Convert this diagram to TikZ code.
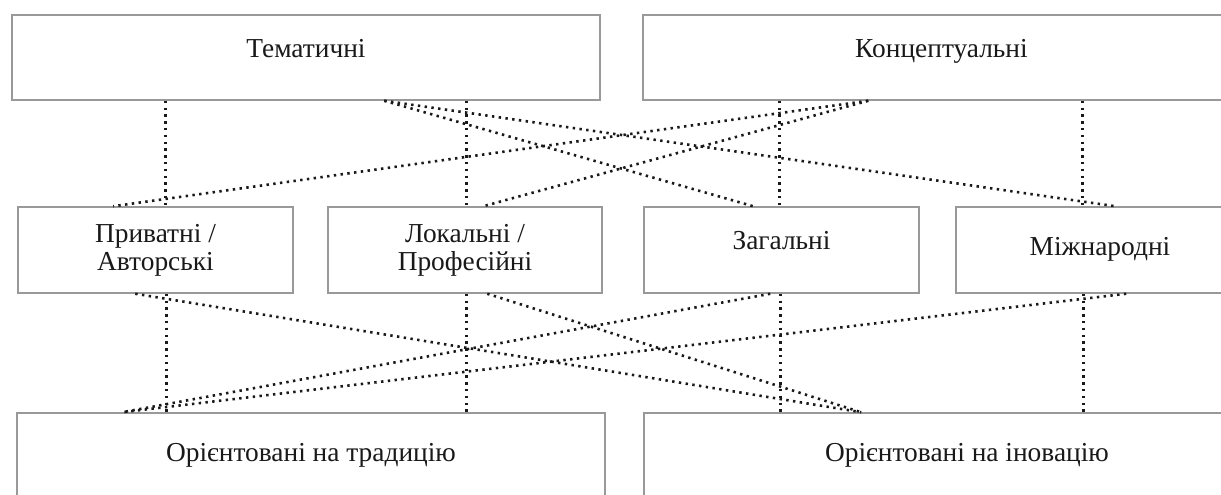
\documentclass[tikz,border=0pt]{standalone}
\usepackage{fontspec}
\setmainfont{Liberation Serif}
\usetikzlibrary{calc}
\begin{document}
\begin{tikzpicture}[x=1bp,y=-1bp,
  box/.style={draw=gray!80, line width=1.5bp, rectangle, inner sep=0pt,
    font=\fontsize{27.5}{28}\selectfont, text=black!90, align=center},
  link/.style={draw=black!90, line width=2.6bp, dash pattern=on 2.4bp off 4.4bp}]
\clip (0,0) rectangle (1221,495);
\fill[white] (0,0) rectangle (1221,495);
% top row
\node[box, minimum width=588bp, minimum height=85bp, text height=18bp, text depth=17bp] (T) at (306,57.5) {Тематичні};
\node[box, minimum width=597bp, minimum height=85bp, text height=18bp, text depth=17bp] (K) at (941.5,57.5) {Концептуальні};
% middle row
\node[box, minimum width=275bp, minimum height=86bp] (P) at (155.5,250) {Приватні /\\Авторські};
\node[box, minimum width=274bp, minimum height=86bp] (L) at (465,250) {Локальні /\\Професійні};
\node[box, minimum width=275bp, minimum height=86bp, text height=18bp, text depth=18bp] (Z) at (781.5,250) {Загальні};
\node[box, minimum width=288bp, minimum height=86bp, text height=18bp, text depth=6bp] (M) at (1100,250) {Міжнародні};
% bottom row
\node[box, minimum width=588bp, minimum height=87bp, text height=18bp, text depth=9bp] (Tr) at (311,456.5) {Орієнтовані на традицію};
\node[box, minimum width=646bp, minimum height=87bp, text height=18bp, text depth=9bp] (In) at (967,456.5) {Орієнтовані на іновацію};
% anchor points
\coordinate (Ta) at ($(T.south west)+(154,0)$);
\coordinate (Tb) at ($(T.south west)+(455,0)$);
\coordinate (Tc) at ($(T.south west)+(373,0)$);
\coordinate (Ka) at ($(K.south west)+(137,0)$);
\coordinate (Kb) at ($(K.south west)+(440,0)$);
\coordinate (Kc) at ($(K.south west)+(226,0)$);
\coordinate (Pt) at ($(P.north west)+(96,0)$);
\coordinate (Lt) at ($(L.north west)+(156,0)$);
\coordinate (Zt) at ($(Z.north west)+(110,0)$);
\coordinate (Mt) at ($(M.north west)+(160,0)$);
\coordinate (Pv) at ($(P.south west)+(149,0)$);
\coordinate (Lv) at ($(L.south west)+(139,0)$);
\coordinate (Zv) at ($(Z.south west)+(137,0)$);
\coordinate (Mv) at ($(M.south west)+(128,0)$);
\coordinate (Pb) at ($(P.south west)+(118,0)$);
\coordinate (Lb) at ($(L.south west)+(160,0)$);
\coordinate (Zb) at ($(Z.south west)+(127,0)$);
\coordinate (Mb) at ($(M.south west)+(171,0)$);
\coordinate (Trt) at ($(Tr.north west)+(106,0)$);
\coordinate (Int) at ($(In.north west)+(218,0)$);
% top to middle
\draw[link] (Ta) -- (Ta |- P.north);
\draw[link] (Tb) -- (Tb |- L.north);
\draw[link] (Ka) -- (Ka |- Z.north);
\draw[link] (Kb) -- (Kb |- M.north);
\draw[link] (Tc) -- (Zt);
\draw[link] (Tc) -- (Mt);
\draw[link] (Kc) -- (Pt);
\draw[link] (Kc) -- (Lt);
% middle to bottom
\draw[link] (Pv) -- (Pv |- Tr.north);
\draw[link] (Lv) -- (Lv |- Tr.north);
\draw[link] (Zv) -- (Zv |- In.north);
\draw[link] (Mv) -- (Mv |- In.north);
\draw[link] (Pb) -- (Int);
\draw[link] (Lb) -- (Int);
\draw[link] (Zb) -- (Trt);
\draw[link] (Mb) -- (Trt);
\end{tikzpicture}
\end{document}
